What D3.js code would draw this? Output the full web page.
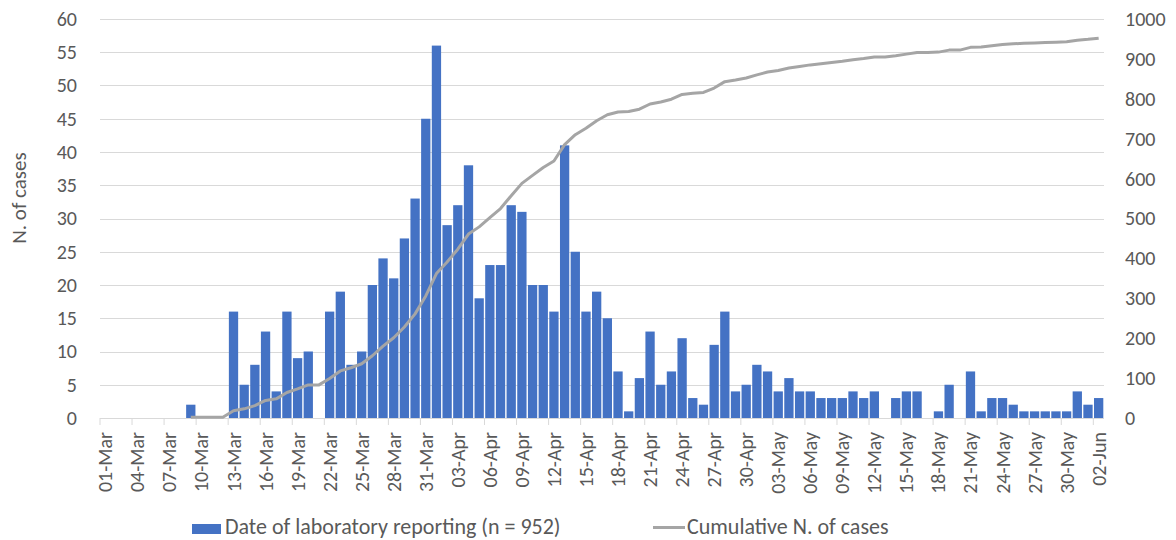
<!DOCTYPE html>
<html>
<head>
<meta charset="utf-8">
<script src="https://cdn.jsdelivr.net/npm/d3@7"></script>
<style>
  body { margin: 0; background: #fff; }
  text { font-family: Carlito, Calibri, "Liberation Sans", sans-serif; fill: #595959; }
</style>
</head>
<body>
<svg id="chart" width="1176" height="540"></svg>
<script>
// daily cases by date of laboratory reporting, 01-Mar .. 02-Jun
var dates = d3.utcDay.range(new Date(Date.UTC(2020, 2, 1)), new Date(Date.UTC(2020, 5, 3)));
var categories = dates.map(d3.utcFormat("%d-%b"));

var daily = [
  0, 0, 0, 0, 0, 0, 0, 0, 2, 0,
  0, 0, 16, 5, 8, 13, 4, 16, 9, 10,
  0, 16, 19, 8, 10, 20, 24, 21, 27, 33,
  45, 56, 29, 32, 38, 18, 23, 23, 32, 31,
  20, 20, 16, 41, 25, 16, 19, 15, 7, 1,
  6, 13, 5, 7, 12, 3, 2, 11, 16, 4,
  5, 8, 7, 4, 6, 4, 4, 3, 3, 3,
  4, 3, 4, 0, 3, 4, 4, 0, 1, 5,
  0, 7, 1, 3, 3, 2, 1, 1, 1, 1,
  1, 4, 2, 3
];

var leftTicks = [0, 5, 10, 15, 20, 25, 30, 35, 40, 45, 50, 55, 60];
var rightTicks = [0, 100, 200, 300, 400, 500, 600, 700, 800, 900, 1000];
var tickLabels = categories.filter(function(c, i){ return i % 3 == 0; });

var seriesNames = ["Date of laboratory reporting (n = 952)", "Cumulative N. of cases"];

// running total for the grey line
var cumulative = [];
var total = 0;
daily.forEach(function(v){ total += v; cumulative.push(total); });

var svg = d3.select("#chart");
var plotLeft = 100, plotRight = 1104, plotTop = 19, plotBottom = 418;

var x = d3.scaleBand()
  .domain(categories)
  .range([plotLeft, plotRight])
  .paddingInner(0.13)
  .paddingOuter(0.065);

var y = d3.scaleLinear().domain([0, 60]).range([plotBottom, plotTop]);
var y2 = d3.scaleLinear().domain([0, 1000]).range([plotBottom, plotTop]);

// gridlines
svg.append("g").selectAll("line")
  .data(leftTicks.slice(1))
  .enter().append("line")
  .attr("x1", plotLeft).attr("x2", plotRight)
  .attr("y1", function(d){ return Math.round(y(d)) + 0.5; })
  .attr("y2", function(d){ return Math.round(y(d)) + 0.5; })
  .attr("stroke", "#d9d9d9")
  .attr("stroke-width", 1);

// left axis
var leftAxis = svg.append("g")
  .attr("transform", "translate(" + plotLeft + ",0)")
  .call(d3.axisLeft(y).tickValues(leftTicks).tickSize(0).tickPadding(23).tickFormat(d3.format("d")));
leftAxis.select(".domain").remove();
leftAxis.selectAll("text").attr("font-size", 20);
leftAxis.attr("font-family", null).attr("font-size", null);

// right axis
var rightAxis = svg.append("g")
  .attr("transform", "translate(" + plotRight + ",0)")
  .call(d3.axisRight(y2).tickValues(rightTicks).tickSize(0).tickPadding(21).tickFormat(d3.format("d")));
rightAxis.select(".domain").remove();
rightAxis.selectAll("text").attr("font-size", 20);
rightAxis.attr("font-family", null).attr("font-size", null);

// bars
svg.append("g").selectAll("rect")
  .data(daily)
  .enter().append("rect")
  .attr("x", function(d, i){ return x(categories[i]); })
  .attr("width", x.bandwidth())
  .attr("y", function(d){ return y(d); })
  .attr("height", function(d){ return plotBottom - y(d); })
  .attr("fill", "#4472c4");

// x axis line and ticks at category boundaries
svg.append("line")
  .attr("x1", plotLeft).attr("x2", plotRight)
  .attr("y1", plotBottom + 0.5).attr("y2", plotBottom + 0.5)
  .attr("stroke", "#d9d9d9");

svg.append("g").selectAll("line")
  .data(tickLabels)
  .enter().append("line")
  .attr("x1", function(d){ return x(d) - x.step() * 0.065; })
  .attr("x2", function(d){ return x(d) - x.step() * 0.065; })
  .attr("y1", plotBottom)
  .attr("y2", plotBottom + 7)
  .attr("stroke", "#d9d9d9");

svg.append("g").selectAll("text")
  .data(tickLabels)
  .enter().append("text")
  .attr("transform", function(d){
    return "translate(" + (x(d) + x.bandwidth() / 2) + "," + (plotBottom + 14) + ") rotate(-90)";
  })
  .attr("text-anchor", "end")
  .attr("dy", "0.35em")
  .attr("font-size", 20)
  .text(function(d){ return d; });

// cumulative line, starts at first reported case
var first = cumulative.findIndex(function(v){ return v > 0; });
var line = d3.line()
  .x(function(d){ return x(categories[d]) + x.bandwidth() / 2; })
  .y(function(d){ return y2(cumulative[d]); });

svg.append("path")
  .datum(d3.range(first, cumulative.length))
  .attr("d", line)
  .attr("fill", "none")
  .attr("stroke", "#a5a5a5")
  .attr("stroke-width", 3)
  .attr("stroke-linejoin", "round");

// y title
svg.append("text")
  .attr("transform", "translate(19,198) rotate(-90)")
  .attr("text-anchor", "middle")
  .attr("dy", "0.35em")
  .attr("font-size", 21)
  .text("N. of cases");

// legend
svg.append("rect")
  .attr("x", 192).attr("y", 524)
  .attr("width", 29).attr("height", 10)
  .attr("fill", "#4472c4");
svg.append("text")
  .attr("x", 225).attr("y", 534)
  .attr("font-size", 22)
  .text(seriesNames[0]);

svg.append("line")
  .attr("x1", 653).attr("x2", 685)
  .attr("y1", 527.5).attr("y2", 527.5)
  .attr("stroke", "#a5a5a5")
  .attr("stroke-width", 3);
svg.append("text")
  .attr("x", 687).attr("y", 534)
  .attr("font-size", 22)
  .text(seriesNames[1]);
</script>
</body>
</html>
